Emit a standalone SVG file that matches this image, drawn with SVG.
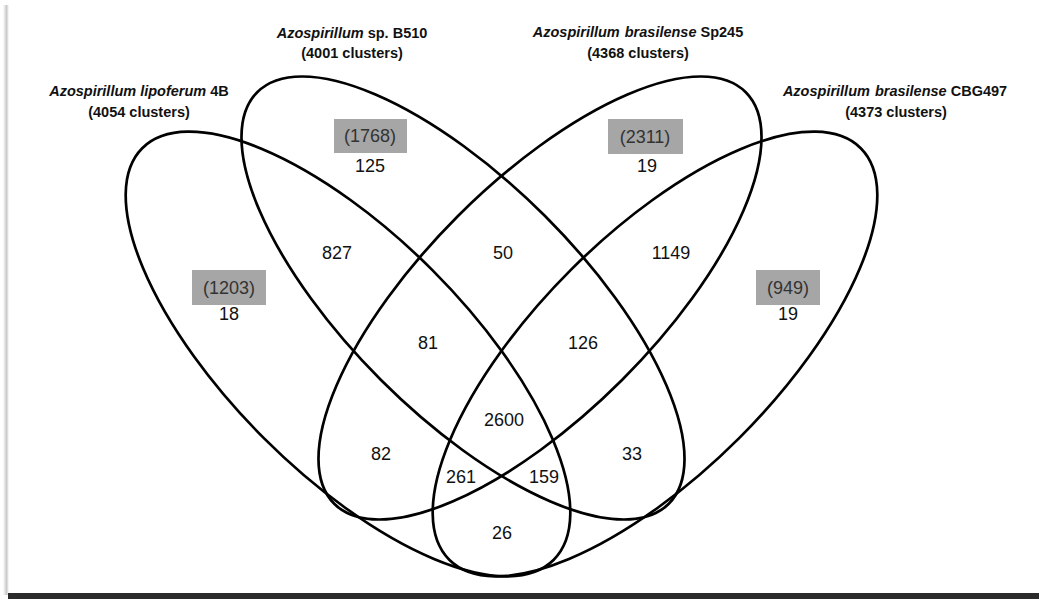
<svg xmlns="http://www.w3.org/2000/svg" width="1039" height="599" viewBox="0 0 1039 599">
<defs>
<linearGradient id="lsh" x1="0" y1="0" x2="1" y2="0">
<stop offset="0" stop-color="#ffffff"/>
<stop offset="0.6" stop-color="#c8c8c8"/>
<stop offset="1" stop-color="#ffffff"/>
</linearGradient>
</defs>
<style>
.set{fill:none;stroke:#000;stroke-width:2.7}
.lbl{font-family:"Liberation Sans",Arial,sans-serif;font-size:14.5px;font-weight:bold;fill:#111;text-anchor:middle}
.it{font-style:italic}
.num{font-family:"Liberation Sans",Arial,sans-serif;font-size:18px;fill:#111;text-anchor:middle}
.box{fill:#a6a6a6}
.bnum{font-family:"Liberation Sans",Arial,sans-serif;font-size:18px;fill:#333;text-anchor:middle}
</style>
<rect x="0" y="0" width="1039" height="599" fill="#ffffff"/>
<rect x="3" y="5" width="6" height="590" fill="url(#lsh)"/>
<rect x="8" y="593" width="1031" height="6" fill="#2b2b2b"/>

<g id="set-lipoferum">
<ellipse class="set" cx="348" cy="354" rx="291" ry="119" transform="rotate(45 348 354)"/>
<text class="lbl" x="139" y="96"><tspan class="it">Azospirillum lipoferum</tspan> 4B</text>
<text class="lbl" x="139" y="117">(4054 clusters)</text>
</g>
<g id="set-b510">
<ellipse class="set" cx="463" cy="298" rx="291" ry="116" transform="rotate(45 463 298)"/>
<text class="lbl" x="352" y="38"><tspan class="it">Azospirillum</tspan> sp. B510</text>
<text class="lbl" x="352" y="58">(4001 clusters)</text>
</g>
<g id="set-sp245">
<ellipse class="set" cx="540" cy="298" rx="291" ry="116" transform="rotate(-45 540 298)"/>
<text class="lbl" x="638" y="37"><tspan class="it">Azospirillum</tspan><tspan class="it" dx="5">brasilense</tspan> Sp245</text>
<text class="lbl" x="638" y="58">(4368 clusters)</text>
</g>
<g id="set-cbg497">
<ellipse class="set" cx="655" cy="354" rx="291" ry="119" transform="rotate(-45 655 354)"/>
<text class="lbl" x="895" y="96"><tspan class="it">Azospirillum</tspan><tspan class="it" dx="5">brasilense</tspan> CBG497</text>
<text class="lbl" x="896" y="117">(4373 clusters)</text>
</g>

<g id="unique-counts">
<rect class="box" x="334" y="119" width="73" height="34"/>
<text class="bnum" x="370" y="142">(1768)</text>
<text class="num" x="370" y="172">125</text>
<rect class="box" x="608" y="119" width="75" height="35"/>
<text class="bnum" x="645" y="143">(2311)</text>
<text class="num" x="647" y="172">19</text>
<rect class="box" x="192" y="270" width="74" height="35"/>
<text class="bnum" x="229" y="294">(1203)</text>
<text class="num" x="229" y="320">18</text>
<rect class="box" x="756" y="270" width="64" height="35"/>
<text class="bnum" x="788" y="294">(949)</text>
<text class="num" x="788" y="320">19</text>
</g>

<g id="overlap-counts">
<text class="num" x="337" y="259">827</text>
<text class="num" x="503" y="259">50</text>
<text class="num" x="671" y="259">1149</text>
<text class="num" x="428" y="349">81</text>
<text class="num" x="583" y="349">126</text>
<text class="num" x="504" y="426">2600</text>
<text class="num" x="381" y="460">82</text>
<text class="num" x="632" y="460">33</text>
<text class="num" x="461" y="483">261</text>
<text class="num" x="544" y="483">159</text>
<text class="num" x="502" y="539">26</text>
</g>
<g id="connectors"/>
</svg>
